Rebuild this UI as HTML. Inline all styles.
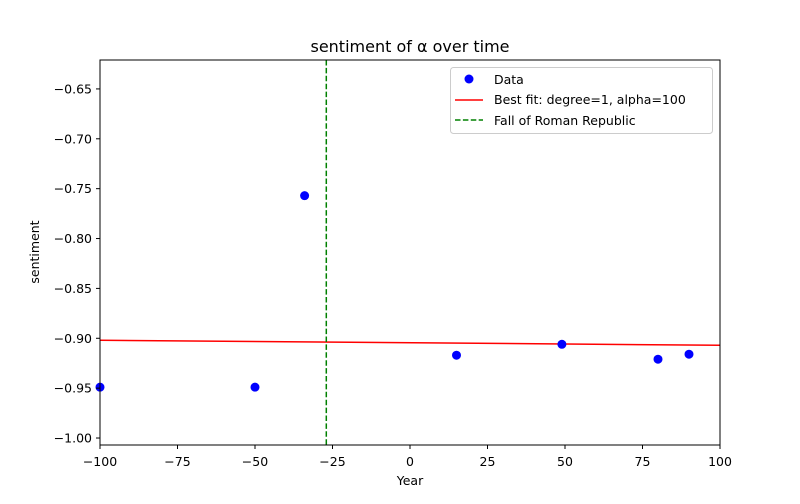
<!DOCTYPE html>
<html><head><meta charset="utf-8"><style>
body{margin:0;background:#fff;font-family:"DejaVu Sans","Liberation Sans",sans-serif;}
svg text{font-family:"DejaVu Sans","Liberation Sans",sans-serif;}
</style></head><body>
<svg id="chart" width="800" height="500" xmlns="http://www.w3.org/2000/svg"></svg>
<script>
const years = [-100, -50, -34, 15, 49, 80, 90];
const sentiments = [-0.949, -0.949, -0.757, -0.917, -0.906, -0.921, -0.916];
const fitX = [-100, 100];
const fitY = [-0.902, -0.907];
const eventYear = -27;
const xTicks = [-100, -75, -50, -25, 0, 25, 50, 75, 100];
const yTicks = [-0.65, -0.70, -0.75, -0.80, -0.85, -0.90, -0.95, -1.00];

const L=100,R=720,T=60,B=445;
const xMin=-100,xMax=100,yMin=-1.007,yMax=-0.621;
const sx=v=>L+(v-xMin)/(xMax-xMin)*(R-L);
const sy=v=>B-(v-yMin)/(yMax-yMin)*(B-T);
const svg=document.getElementById('chart');
const NS='http://www.w3.org/2000/svg';
function mk(tag,attrs,parent){const e=document.createElementNS(NS,tag);for(const k in attrs)e.setAttribute(k,attrs[k]);(parent||svg).appendChild(e);return e;}

let t=mk('text',{x:410,y:52,'text-anchor':'middle','font-size':16,fill:'#000'});t.textContent='sentiment of α over time';



let fl=mk('line',{x1:sx(fitX[0]),y1:sy(fitY[0]),x2:sx(fitX[1]),y2:sy(fitY[1]),stroke:'red','stroke-width':1.5});



let vl=mk('line',{x1:sx(eventYear),y1:T,x2:sx(eventYear),y2:B,stroke:'green','stroke-width':1.5,'stroke-dasharray':'5.5,2.4'});



years.forEach((yr,i)=>{
  const c=mk('circle',{cx:sx(yr),cy:sy(sentiments[i]),r:4.5,fill:'blue'});
  
  
});

let fr=mk('rect',{x:L,y:T,width:R-L,height:B-T,fill:'none',stroke:'#000','stroke-width':1});



xTicks.forEach(v=>{
  const x=sx(v);
  mk('line',{x1:x,y1:B,x2:x,y2:B+4,stroke:'#000'});
  const tx=mk('text',{x:x,y:B+21,'text-anchor':'middle','font-size':12.5,fill:'#000'});
  tx.textContent=v<0?'\u2212'+Math.abs(v):String(v);
  
  
});
yTicks.forEach(v=>{
  const y=sy(v);
  mk('line',{x1:L-4,y1:y,x2:L,y2:y,stroke:'#000'});
  const tx=mk('text',{x:L-8,y:y+4.5,'text-anchor':'end','font-size':12.5,fill:'#000'});
  tx.textContent='\u2212'+Math.abs(v).toFixed(2);
  
  
});
let xl=mk('text',{x:410,y:485,'text-anchor':'middle','font-size':12.5,fill:'#000'});xl.textContent='Year';


let yl=mk('text',{x:39,y:252,'text-anchor':'middle','font-size':12.5,fill:'#000',transform:'rotate(-90 39 252)'});yl.textContent='sentiment';



const lg=mk('g',{});


mk('rect',{x:450.5,y:67.5,width:262,height:66,rx:3,fill:'#fff','fill-opacity':0.8,stroke:'#ccc'},lg);
mk('circle',{cx:469,cy:79,r:4.5,fill:'blue'},lg);
mk('line',{x1:455,y1:100,x2:483,y2:100,stroke:'red','stroke-width':1.5},lg);
mk('line',{x1:455,y1:120,x2:483,y2:120,stroke:'green','stroke-width':1.5,'stroke-dasharray':'5.5,2.4'},lg);
[['Data',84],['Best fit: degree=1, alpha=100',104],['Fall of Roman Republic',125]].forEach(([s,y])=>{
  const e=mk('text',{x:494,y:y,'font-size':12.5,fill:'#000'},lg);e.textContent=s;
  
  
});
</script>
</body></html>
